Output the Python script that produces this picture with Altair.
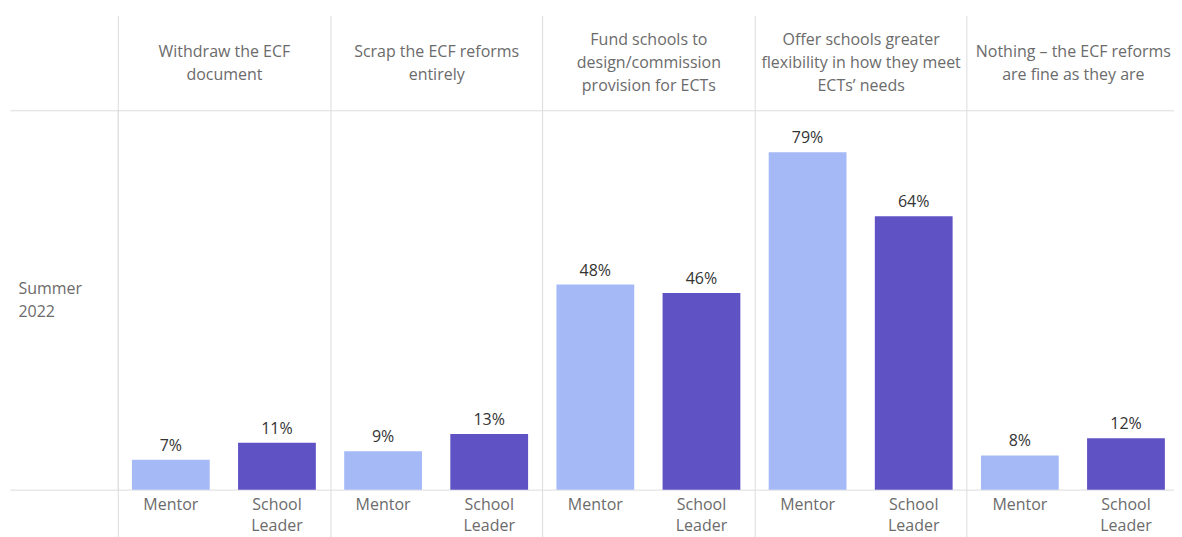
import altair as alt
import pandas as pd

categories = [
    "Withdraw the ECF\ndocument",
    "Scrap the ECF reforms\nentirely",
    "Fund schools to\ndesign/commission\nprovision for ECTs",
    "Offer schools greater\nflexibility in how they meet\nECTs’ needs",
    "Nothing – the ECF reforms\nare fine as they are",
]
groups = ["Mentor", "School Leader"]
mentor = [7, 9, 48, 79, 8]
school_leader = [11, 13, 46, 64, 12]
row_label = ["Summer", "2022"]
colors = ["#a6b9f7", "#5f52c4"]

rows = []
for c, m, s in zip(categories, mentor, school_leader):
    for g, v in zip(groups, [m, s]):
        rows.append({"category": c, "group": g, "value": v, "key": c + "|" + g})
df = pd.DataFrame(rows)
keys = list(df["key"])

FONT = "Open Sans"
FS = 16
GRAY = "#6b6b6b"
LINE = "#dcdcdc"
YMAX = 88.8

key_scale = alt.Scale(type="band", paddingInner=0.267, paddingOuter=0.133)
yenc = alt.Y(
    "value:Q",
    scale=alt.Scale(domain=[0, YMAX], nice=False),
    axis=alt.Axis(
        values=[0, YMAX], labels=False, domain=False, grid=False,
        tickSize=108, tickColor=LINE, tickWidth=1,
        title=row_label, titleAngle=0, titleAlign="left", titleBaseline="middle",
        titleX=-100, titleY=179, titleFontSize=FS, titleFontWeight="normal",
        titleColor=GRAY, titleFont=FONT, titleLineHeight=23,
    ),
)

bars = alt.Chart(df).mark_bar().encode(
    x=alt.X(
        "key:N", sort=keys, scale=key_scale,
        axis=alt.Axis(
            orient="bottom", title=None, ticks=False, domain=False, grid=False,
            labelAngle=0, labelPadding=7, labelFontSize=FS, labelColor=GRAY,
            labelFont=FONT, labelLineHeight=21, labelBaseline="top",
            labelExpr="split(split(datum.label, '|')[1], ' ')",
        ),
    ),
    y=yenc,
    color=alt.Color("group:N", scale=alt.Scale(domain=groups, range=colors), legend=None),
)

text = alt.Chart(df).transform_calculate(
    lbl="datum.value + '%'"
).mark_text(baseline="bottom", dy=-6, fontSize=FS, color="#333333", font=FONT).encode(
    x=alt.X("key:N", sort=keys, scale=key_scale, axis=None),
    y=alt.Y("value:Q", scale=alt.Scale(domain=[0, YMAX], nice=False)),
    text="lbl:N",
)

cat_scale = alt.Scale(type="band", paddingInner=0, paddingOuter=0)
header = alt.Chart(df).mark_rule(opacity=0).encode(
    x=alt.X(
        "category:N", sort=categories, scale=cat_scale,
        axis=alt.Axis(
            orient="top", title=None, domain=False,
            tickBand="extent", tickSize=95, tickColor=LINE, tickWidth=1,
            grid=True, gridColor=LINE, gridWidth=1,
            labelAngle=0, labelBaseline="middle",
            labelPadding={
                "condition": {"test": "length(split(datum.value, '\\n')) == 3", "value": -24},
                "value": -36,
            },
            labelLineHeight=23, labelFontSize=FS, labelColor=GRAY, labelFont=FONT,
            labelLimit=400, labelOverlap=False, labelBound=False, labelFlush=False,
            labelExpr="split(datum.label, '\\n')",
        ),
    )
)

lower = alt.Chart(df).mark_rule(opacity=0).encode(
    x=alt.X(
        "category:N", sort=categories, scale=cat_scale,
        axis=alt.Axis(
            orient="bottom", title=None, domain=False, labels=False, grid=False,
            tickBand="extent", tickSize=50, tickColor=LINE, tickWidth=1,
        ),
    )
)

chart = alt.layer(bars, text, header, lower).resolve_scale(x="independent").properties(
    width=1063, height=380,
    padding={"left": 1, "top": 6, "right": -6, "bottom": 0},
).configure_view(stroke=LINE, strokeWidth=1).configure(font=FONT)

chart.save("out.html", embed_options={"renderer": "svg", "actions": False})
